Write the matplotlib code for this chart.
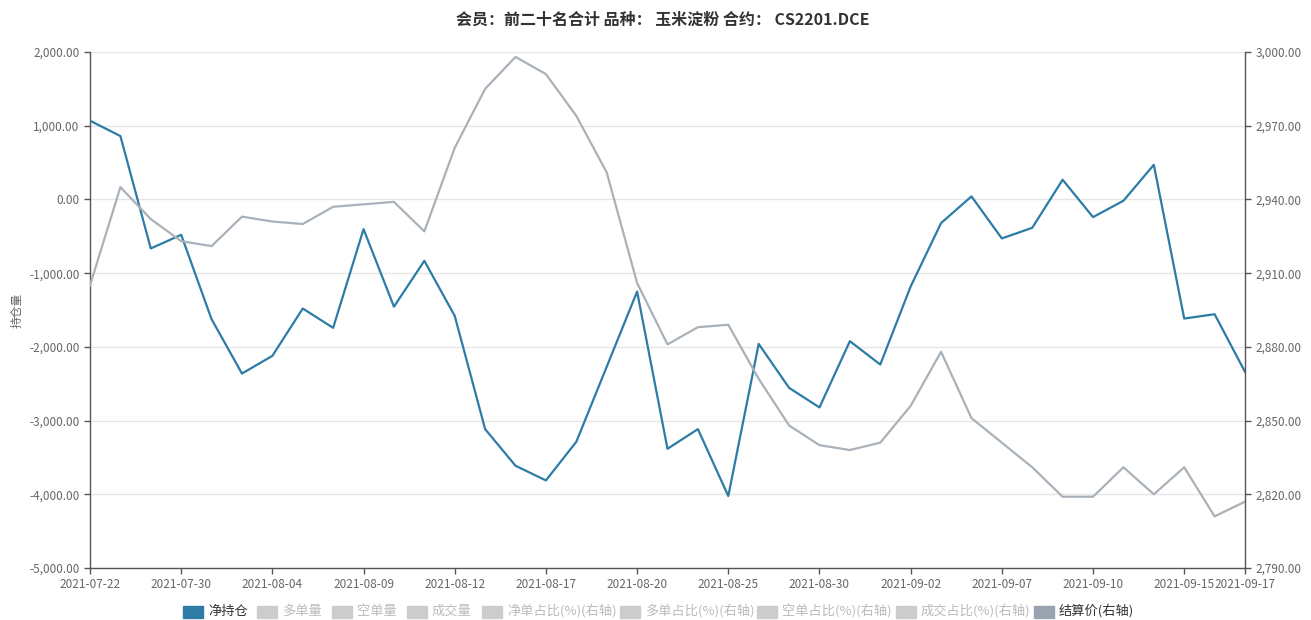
import matplotlib
matplotlib.use("Agg")
import matplotlib.pyplot as plt
from matplotlib.patches import Rectangle
from matplotlib.ticker import FuncFormatter, FixedLocator

plt.rcParams['font.family'] = ['Noto Sans CJK SC', 'DejaVu Sans']

dates = ['2021-07-22', '2021-07-26', '2021-07-28', '2021-07-30', '2021-08-02', '2021-08-03',
         '2021-08-04', '2021-08-05', '2021-08-06', '2021-08-09', '2021-08-10', '2021-08-11',
         '2021-08-12', '2021-08-13', '2021-08-16', '2021-08-17', '2021-08-18', '2021-08-19',
         '2021-08-20', '2021-08-23', '2021-08-24', '2021-08-25', '2021-08-26', '2021-08-27',
         '2021-08-30', '2021-08-31', '2021-09-01', '2021-09-02', '2021-09-03', '2021-09-06',
         '2021-09-07', '2021-09-08', '2021-09-09', '2021-09-10', '2021-09-13', '2021-09-14',
         '2021-09-15', '2021-09-16', '2021-09-17']

net_position = [1068, 860, -665, -480, -1625, -2362, -2122, -1480, -1742, -403,
                -1455, -833, -1580, -3116, -3613, -3812, -3288, -2270, -1250, -3383,
                -3116, -4024, -1960, -2556, -2822, -1923, -2240, -1181, -321, 41,
                -529, -385, 267, -240, -18, 470, -1616, -1557, -2339]

settle_price = [2905, 2945, 2932, 2923, 2921, 2933, 2931, 2930, 2937, 2938,
                2939, 2927, 2961, 2985, 2998, 2991, 2974, 2951, 2906, 2881,
                2888, 2889, 2867, 2848, 2840, 2838, 2841, 2856, 2878, 2851,
                2841, 2831, 2819, 2819, 2831, 2820, 2831, 2811, 2817]

legend_names = ['净持仓', '多单量', '空单量', '成交量', '净单占比(%)(右轴)',
                '多单占比(%)(右轴)', '空单占比(%)(右轴)', '成交占比(%)(右轴)', '结算价(右轴)']
legend_active = [True, False, False, False, False, False, False, False, True]

blue = '#2d7ca6'
grey_line = '#a9b1b9'
W, H = 1311, 620

fig = plt.figure(figsize=(W / 100, H / 100), dpi=100)
ax = fig.add_axes([90 / W, (H - 568) / H, 1155 / W, 516 / H])
ax2 = ax.twinx()

x = list(range(len(dates)))
ax.plot(x, net_position, color=blue, lw=1.6, zorder=3)
ax2.plot(x, settle_price, color=grey_line, lw=1.6, zorder=2)

ax.set_xlim(0, len(dates) - 1)
ax.set_ylim(-5000, 2000)
ax2.set_ylim(2790, 3000)
ax.set_yticks(range(-5000, 2001, 1000))
ax2.set_yticks(range(2790, 3001, 30))

fmt = FuncFormatter(lambda v, p: f'{v:,.2f}')
ax.yaxis.set_major_formatter(fmt)
ax2.yaxis.set_major_formatter(fmt)

tick_idx = list(range(0, len(dates) - 1, 3)) + [len(dates) - 1]
ax.xaxis.set_major_locator(FixedLocator(tick_idx))
ax.set_xticklabels([dates[i] for i in tick_idx])

ax.grid(axis='y', color='#e6e6e6', lw=1)
ax.set_axisbelow(True)

for a in (ax, ax2):
    for s in a.spines.values():
        s.set_visible(False)
    a.tick_params(labelsize=8.5, colors='#666666', length=4, width=1)
ax.spines['left'].set_visible(True)
ax.spines['bottom'].set_visible(True)
ax2.spines['right'].set_visible(True)
for s in (ax.spines['left'], ax.spines['bottom'], ax2.spines['right']):
    s.set_color('#555555')
    s.set_linewidth(1)
ax.tick_params(axis='both', color='#555555')
ax2.tick_params(axis='y', color='#555555')
ax.tick_params(axis='x', pad=3)

# y axis name, placed where the reference has it
fig.text(17 / W, 1 - 310 / H, '持仓量', rotation=90, ha='center', va='center',
         fontsize=8.5, color='#666666')

fig.text(663 / W, 1 - 20 / H, '会员：前二十名合计 品种： 玉米淀粉 合约： CS2201.DCE',
         ha='center', va='center', fontsize=11.5, fontweight='bold', color='#333333')

# legend drawn by hand to match the layout
swatch_x = [183, 257, 332, 407, 482, 620, 757, 896, 1034]
for name, sx, active in zip(legend_names, swatch_x, legend_active):
    if name == '净持仓':
        col, tcol = blue, '#333333'
    elif active:
        col, tcol = '#97a4b0', '#333333'
    else:
        col, tcol = '#cccccc', '#bbbbbb'
    fig.patches.append(Rectangle((sx / W, 1 - 618 / H), 20 / W, 12 / H,
                                 transform=fig.transFigure, color=col))
    fig.text((sx + 25) / W, 1 - 611 / H, name, ha='left', va='center',
             fontsize=9.5, color=tcol)

fig.savefig('out.png', dpi=100)
